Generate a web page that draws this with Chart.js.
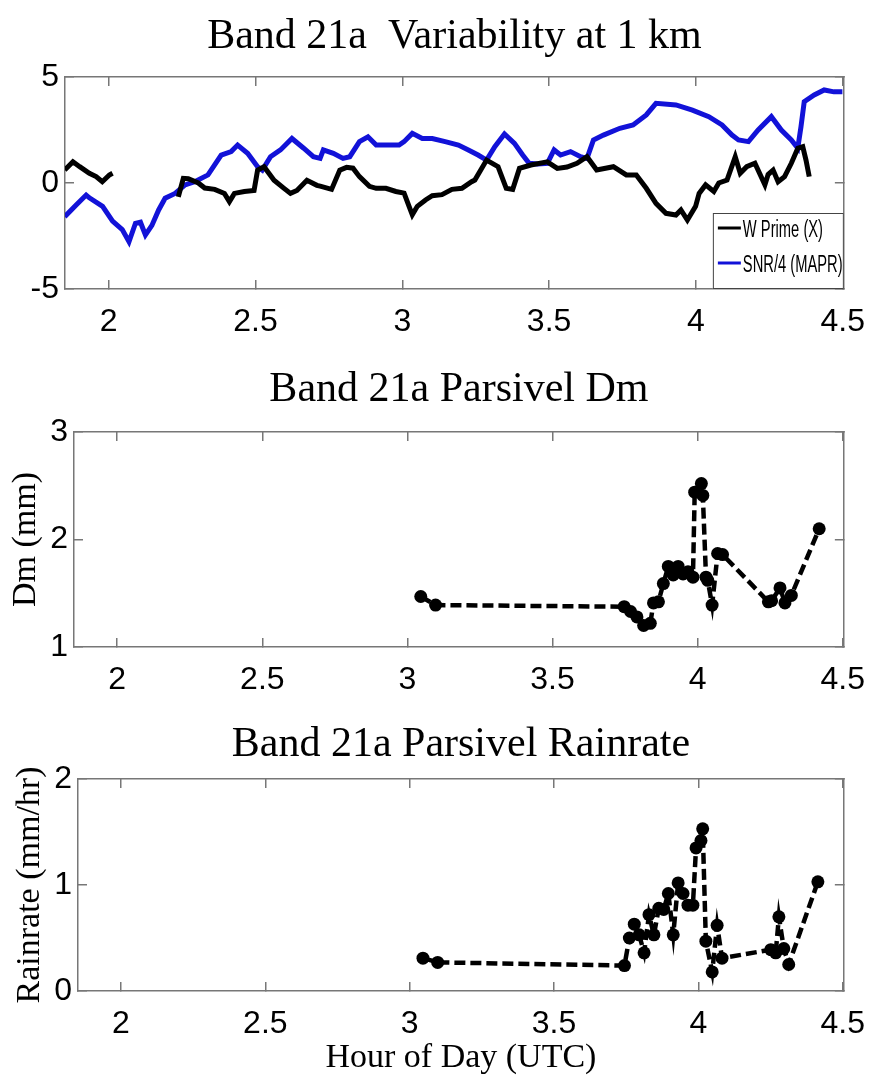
<!DOCTYPE html>
<html>
<head>
<meta charset="utf-8">
<script src="https://cdn.jsdelivr.net/npm/chart.js@4.4.1/dist/chart.umd.min.js"></script>
<style>
  body { margin: 0; background: #fff; }
  canvas.panel { position: absolute; left: 0; }
</style>
</head>
<body>
<canvas id="chartTop" class="panel" width="888" height="345" style="top:0"></canvas>
<canvas id="chartDm" class="panel" width="888" height="355" style="top:345px"></canvas>
<canvas id="chartRain" class="panel" width="888" height="378" style="top:700px"></canvas>
<script>
// Tick labels / ranges
const hourTicks = [2, 2.5, 3, 3.5, 4, 4.5];
const topYTicks = [-5, 0, 5];
const dmYTicks = [1, 2, 3];
const rainYTicks = [0, 1, 2];
const seriesNames = ['W Prime (X)', 'SNR/4 (MAPR)'];

// W Prime (X), black line (null = gap in record)
const wPrimeHours = [1.850, 1.878, 1.901, 1.934, 1.957, 1.978, 2.002, 2.013, 2.120,
  2.237, 2.254, 2.271, 2.305, 2.327, 2.361, 2.394, 2.411, 2.428, 2.462,
  2.495, 2.507, 2.529, 2.563, 2.596, 2.619, 2.641, 2.675, 2.709, 2.720,
  2.759, 2.787, 2.810, 2.832, 2.854, 2.888, 2.911, 2.944, 2.978, 3.006,
  3.023, 3.034, 3.051, 3.079, 3.102, 3.135, 3.169, 3.203, 3.236,
  3.247, 3.287, 3.326, 3.354, 3.376, 3.399, 3.438, 3.494, 3.528, 3.561,
  3.595, 3.629, 3.662, 3.719, 3.763, 3.797, 3.831, 3.864, 3.898, 3.932,
  3.949, 3.971, 3.999, 4.011, 4.033, 4.061, 4.078, 4.106, 4.134, 4.151,
  4.173, 4.201, 4.235, 4.246, 4.263, 4.280, 4.302, 4.325, 4.347, 4.364,
  4.375, 4.386];
const wPrimeValues = [0.61, 1.0, 0.77, 0.46, 0.30, 0.06, 0.38, 0.46, null,
  -0.65, 0.22, 0.2, 0.0, -0.24, -0.3, -0.49, -0.88, -0.49, -0.4,
  -0.35, 0.61, 0.77, 0.13, -0.24, -0.49, -0.35, 0.13, -0.11, -0.15,
  -0.3, 0.61, 0.74, 0.7, 0.3, -0.16, -0.25, -0.25, -0.4, -0.48,
  -1.1, -1.5, -1.1, -0.8, -0.6, -0.55, -0.3, -0.25, 0.06,
  0.14, 1.08, 0.77, -0.25, -0.3, 0.69, 0.85, 1.0, 0.69, 0.75,
  0.93, 1.24, 0.61, 0.77, 0.38, 0.38, -0.25, -0.96, -1.43, -1.51,
  -1.27, -1.75, -1.1, -0.49, -0.09, -0.4, 0.0, 0.14, 1.24, 0.46,
  0.77, 0.93, -0.09, 0.4, 0.61, 0.06, 0.3, 0.93, 1.64, 1.71,
  1.08, 0.3];

// SNR/4 (MAPR), blue line
const snrHours = [1.850, 1.889, 1.923, 1.934, 1.979, 2.013, 2.046, 2.069, 2.091, 2.108,
  2.125, 2.147, 2.170, 2.192, 2.226, 2.260, 2.293, 2.338, 2.383, 2.417,
  2.439, 2.473, 2.507, 2.523, 2.551, 2.585, 2.624, 2.664, 2.697, 2.720,
  2.731, 2.765, 2.798, 2.821, 2.854, 2.883, 2.911, 2.955, 2.989, 3.006,
  3.034, 3.068, 3.102, 3.146, 3.191, 3.225, 3.258, 3.287, 3.315, 3.348,
  3.382, 3.410, 3.432, 3.461, 3.494, 3.517, 3.539, 3.573, 3.607, 3.629,
  3.651, 3.685, 3.741, 3.786, 3.831, 3.864, 3.932, 3.988, 4.044, 4.089,
  4.123, 4.145, 4.179, 4.212, 4.257, 4.291, 4.325, 4.347, 4.358, 4.369,
  4.403, 4.437, 4.470, 4.499];
const snrValues = [-1.59, -1.04, -0.57, -0.7, -1.1, -1.8, -2.2, -2.77, -1.9, -1.85,
  -2.45, -2.0, -1.27, -0.72, -0.49, -0.09, 0.06, 0.38, 1.32, 1.48,
  1.79, 1.4, 0.77, 0.61, 1.24, 1.56, 2.1, 1.64, 1.24, 1.16,
  1.56, 1.4, 1.16, 1.24, 1.95, 2.18, 1.79, 1.79, 1.79, 1.95,
  2.34, 2.1, 2.1, 1.95, 1.79, 1.56, 1.32, 1.08, 1.71, 2.31,
  1.87, 1.32, 0.93, 0.9, 0.93, 1.56, 1.32, 1.48, 1.24, 1.16,
  2.03, 2.26, 2.58, 2.74, 3.21, 3.76, 3.68, 3.44, 3.13, 2.74,
  2.26, 2.03, 1.95, 2.5, 3.13, 2.5, 2.03, 1.64, 2.66, 3.84,
  4.15, 4.39, 4.3, 4.3];

// Parsivel Dm (mm)
const dmHours = [3.046, 3.097, 3.747, 3.769, 3.791, 3.814, 3.837, 3.848, 3.865, 3.882,
  3.899, 3.916, 3.933, 3.950, 3.967, 3.984, 3.990, 4.013, 4.018, 4.029,
  4.035, 4.050, 4.069, 4.086, 4.244, 4.255, 4.284, 4.301, 4.323, 4.419];
const dmValues = [1.47, 1.39, 1.375, 1.33, 1.28, 1.2, 1.22, 1.41, 1.42, 1.59,
  1.75, 1.67, 1.75, 1.68, 1.7, 1.65, 2.44, 2.52, 2.41, 1.65,
  1.62, 1.39, 1.87, 1.86, 1.42, 1.43, 1.55, 1.41, 1.48, 2.1];

// Parsivel rain rate (mm/hr)
const rainHours = [3.046, 3.097, 3.744, 3.761, 3.778, 3.795, 3.812, 3.829, 3.846, 3.863,
  3.880, 3.896, 3.913, 3.930, 3.947, 3.964, 3.981, 3.992, 4.009, 4.015,
  4.026, 4.048, 4.065, 4.082, 4.251, 4.268, 4.279, 4.296, 4.313, 4.414];
const rainValues = [0.31, 0.27, 0.24, 0.5, 0.63, 0.53, 0.36, 0.72, 0.53, 0.78,
  0.77, 0.92, 0.53, 1.02, 0.92, 0.81, 0.81, 1.35, 1.42, 1.53,
  0.47, 0.18, 0.62, 0.31, 0.39, 0.36, 0.7, 0.4, 0.25, 1.03];

const X_MIN = 1.851, X_MAX = 4.504;
const axisGray = '#777';
const sansFont = "'Liberation Sans', Arial, sans-serif";
const serifFont = "'Liberation Serif', 'Times New Roman', serif";

function toPoints(xs, ys) {
  return xs.map((x, i) => ({ x: x, y: ys[i] }));
}

function fixedTicks(values) {
  return scale => { scale.ticks = values.map(v => ({ value: v })); };
}

// MATLAB style: ticks point into the plot box
const inwardGrid = { drawOnChartArea: false, drawTicks: true, tickLength: -9, color: axisGray, lineWidth: 1.5 };
const boxBorder = { display: true, color: axisGray, width: 1.5 };

// top and right axes only close the box and repeat the tick marks
function boxAxis(position, min, max, ticks) {
  return {
    type: 'linear', position: position, min: min, max: max,
    afterBuildTicks: fixedTicks(ticks),
    afterFit: s => { if (s.isHorizontal()) s.height = 0; else s.width = 0; },
    ticks: { display: false },
    grid: inwardGrid,
    border: boxBorder
  };
}

function axisTitle(text, pad) {
  if (!text) return { display: false };
  return { display: true, text: text, color: '#000', font: { family: serifFont, size: 34, lineHeight: 1 }, padding: pad };
}

function panelOptions(cfg) {
  return {
    responsive: false,
    animation: false,
    layout: { padding: cfg.padding },
    plugins: {
      legend: { display: false },
      tooltip: { enabled: false },
      title: {
        display: true, text: cfg.title, fullSize: false, color: '#000',
        font: { family: serifFont, size: 42, weight: 'normal', lineHeight: 1 },
        padding: cfg.titlePad
      }
    },
    scales: {
      x: {
        type: 'linear', position: 'bottom', min: X_MIN, max: X_MAX,
        afterBuildTicks: fixedTicks(hourTicks),
        afterFit: s => { s.height = cfg.xHeight; },
        ticks: { color: '#000', font: { family: sansFont, size: 32 }, padding: 23, maxRotation: 0, autoSkip: false, callback: v => String(v) },
        grid: inwardGrid,
        border: boxBorder,
        title: axisTitle(cfg.xTitle, { top: 0, bottom: 3 })
      },
      y: {
        type: 'linear', position: 'left', min: cfg.yTicks[0], max: cfg.yTicks[cfg.yTicks.length - 1],
        afterBuildTicks: fixedTicks(cfg.yTicks),
        afterFit: s => { s.width = cfg.yWidth; },
        ticks: { color: '#000', font: { family: sansFont, size: 32 }, padding: 15, callback: v => String(v) },
        grid: inwardGrid,
        border: boxBorder,
        title: axisTitle(cfg.yTitle, { top: cfg.yTitlePad || 0, bottom: 0 })
      },
      x2: boxAxis('top', X_MIN, X_MAX, hourTicks),
      y2: boxAxis('right', cfg.yTicks[0], cfg.yTicks[cfg.yTicks.length - 1], cfg.yTicks)
    }
  };
}

// legend box tucked into the lower right corner of the top panel
const insetLegend = {
  id: 'insetLegend',
  afterDraw(chart) {
    const { ctx, chartArea } = chart;
    const w = 131, h = 76;
    const left = chartArea.right - w, top = chartArea.bottom - h;
    ctx.save();
    ctx.fillStyle = '#fff';
    ctx.fillRect(left, top, w, h);
    ctx.strokeStyle = '#444';
    ctx.lineWidth = 1;
    ctx.strokeRect(left + 0.5, top + 0.5, w - 1, h - 1);
    chart.data.datasets.forEach((ds, i) => {
      const y = top + 15 + i * 35;
      ctx.strokeStyle = ds.borderColor;
      ctx.lineWidth = 3;
      ctx.beginPath();
      ctx.moveTo(left + 5, y);
      ctx.lineTo(left + 28, y);
      ctx.stroke();
      ctx.save();
      ctx.translate(left + 30, y + 3);
      ctx.scale(0.64, 1);
      ctx.fillStyle = '#000';
      ctx.font = "23px 'Liberation Sans', Arial, sans-serif";
      ctx.textBaseline = 'middle';
      ctx.fillText(ds.label, 0, 0);
      ctx.restore();
    });
    ctx.restore();
  }
};

new Chart(document.getElementById('chartTop'), {
  type: 'line',
  data: {
    datasets: [
      { label: seriesNames[0], data: toPoints(wPrimeHours, wPrimeValues), borderColor: '#000', borderWidth: 5, pointRadius: 0, tension: 0, spanGaps: false },
      { label: seriesNames[1], data: toPoints(snrHours, snrValues), borderColor: '#1212d8', borderWidth: 5, pointRadius: 0, tension: 0 }
    ]
  },
  options: panelOptions({
    title: 'Band 21a  Variability at 1 km', titlePad: { top: 16, bottom: 19 },
    padding: { left: 0, right: 35, top: 0, bottom: 6 },
    yTicks: topYTicks, yWidth: 65, xHeight: 50
  }),
  plugins: [insetLegend]
});

const dotStyle = { borderColor: '#000', borderWidth: 4.5, borderDash: [11, 5], pointRadius: 6.5, pointBackgroundColor: '#000', pointBorderColor: '#000', pointBorderWidth: 0, tension: 0 };

new Chart(document.getElementById('chartDm'), {
  type: 'line',
  data: { datasets: [Object.assign({ label: 'Dm', data: toPoints(dmHours, dmValues) }, dotStyle)] },
  options: panelOptions({
    title: 'Band 21a Parsivel Dm', titlePad: { top: 24, bottom: 21 },
    padding: { left: 0, right: 32, top: 0, bottom: 3 },
    yTicks: dmYTicks, yWidth: 74, xHeight: 50,
    yTitle: 'Dm (mm)', yTitlePad: 9
  })
});

new Chart(document.getElementById('chartRain'), {
  type: 'line',
  data: { datasets: [Object.assign({ label: 'Rainrate', data: toPoints(rainHours, rainValues) }, dotStyle)] },
  options: panelOptions({
    title: 'Band 21a Parsivel Rainrate', titlePad: { top: 24, bottom: 13 },
    padding: { left: 0, right: 26, top: 0, bottom: 0 },
    yTicks: rainYTicks, yWidth: 78, xHeight: 87,
    yTitle: 'Rainrate (mm/hr)', yTitlePad: 13,
    xTitle: 'Hour of Day (UTC)'
  })
});
</script>
</body>
</html>
